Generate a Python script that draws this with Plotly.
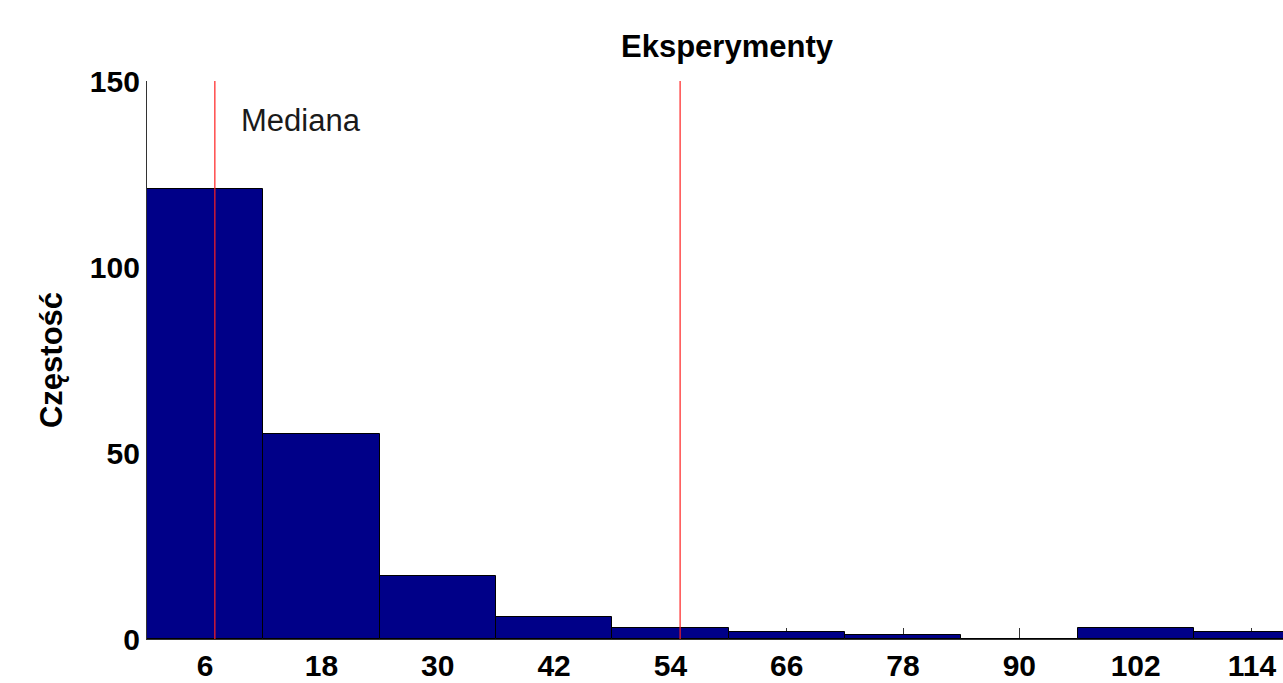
import plotly.graph_objects as go

# Histogram bins (centres, width 12) and their counts
bin_centers = [6, 18, 30, 42, 54, 66, 78, 90, 102, 114]
counts = [121, 55, 17, 6, 3, 2, 1, 0, 3, 2]
bin_width = 12

# Reference lines: median and second marker
vlines = [7, 55]
y_ticks = [0, 50, 100, 150]

FONT = "Liberation Sans, Arial, sans-serif"

fig = go.Figure()
fig.add_trace(go.Bar(
    x=bin_centers, y=counts, width=bin_width,
    marker=dict(color="#000088", line=dict(color="#000000", width=1)),
    showlegend=False,
))

for xv in vlines:
    fig.add_shape(type="line", xref="x", yref="y", x0=xv, x1=xv, y0=0, y1=150,
                  line=dict(color="#ff2020", width=1.2), layer="above")

fig.add_annotation(x=9.5, y=139.5, xref="x", yref="y", text="Mediana",
                   showarrow=False, xanchor="left", yanchor="middle",
                   font=dict(family=FONT, size=31, color="#1a1a1a"))

plot_h = 683 - 81 - 44
fig.add_annotation(x=0.511, y=1 + (81 - 47) / plot_h, xref="paper", yref="paper",
                   text="Eksperymenty", showarrow=False,
                   xanchor="center", yanchor="middle",
                   font=dict(family=FONT, size=31, color="#000000", weight="bold"))

tick_font = dict(family=FONT, size=30, color="#000000", weight="bold")

fig.update_layout(
    width=1283, height=683,
    margin=dict(l=147, r=0, t=81, b=44),
    paper_bgcolor="white", plot_bgcolor="white",
    bargap=0,
    xaxis=dict(
        range=[0, 117.2], tickvals=bin_centers, ticktext=[str(v) for v in bin_centers],
        ticks="inside", ticklen=11, tickcolor="#333333", tickwidth=1,
        showline=True, linecolor="#333333", linewidth=1.2,
        showgrid=False, zeroline=False, layer="below traces",
        tickfont=tick_font,
    ),
    yaxis=dict(
        range=[0, 150], tickvals=y_ticks,
        ticks="inside", ticklen=11, tickcolor="#333333", tickwidth=1,
        showline=True, linecolor="#333333", linewidth=1.2,
        showgrid=False, zeroline=False, layer="below traces",
        tickfont=tick_font,
        title=dict(text="Częstość", standoff=17,
                   font=dict(family=FONT, size=31, color="#000000", weight="bold")),
    ),
)

fig.write_html("out.html")
